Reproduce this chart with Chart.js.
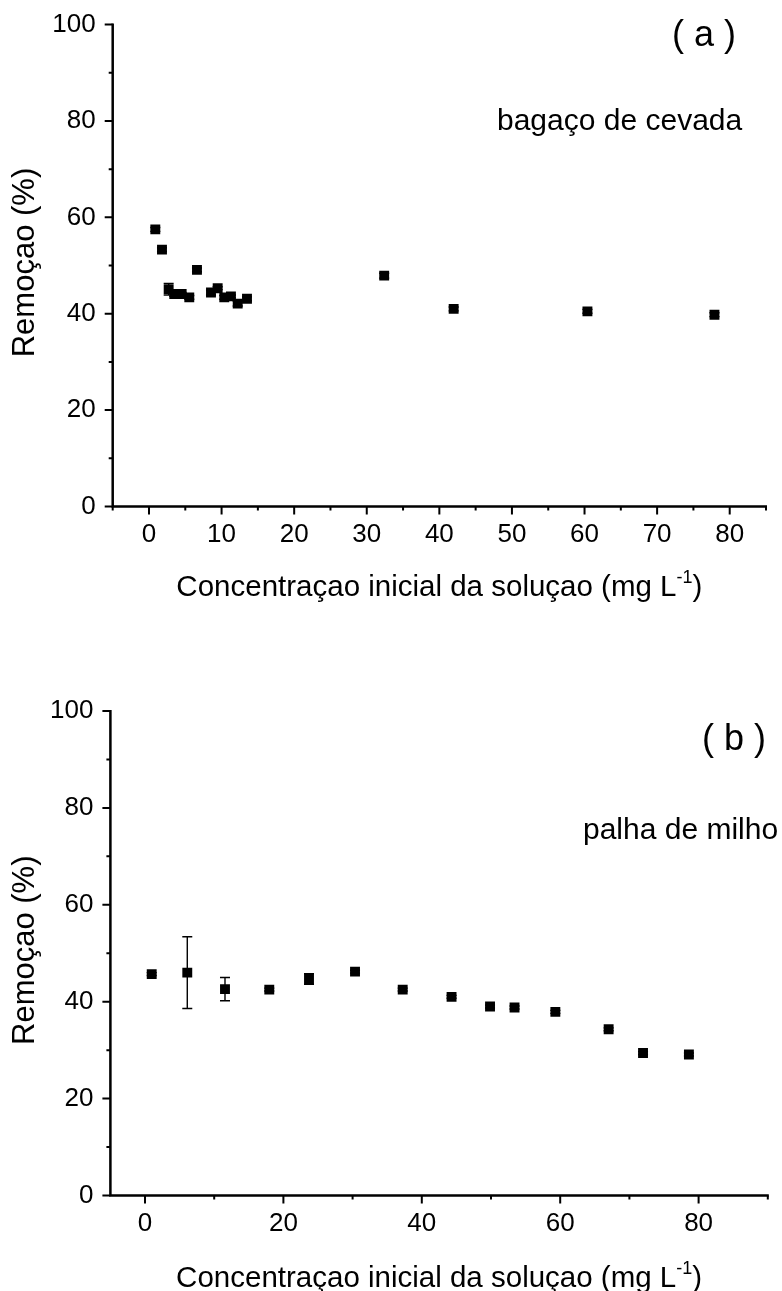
<!DOCTYPE html>
<html><head><meta charset="utf-8">
<script src="https://cdn.jsdelivr.net/npm/chart.js@4.4.1/dist/chart.umd.min.js"></script>
<style>
html,body{margin:0;padding:0;background:#fff;width:782px;height:1291px;overflow:hidden}
canvas{position:absolute;left:0}
#c1{top:0}#c2{top:640px}
</style></head><body>
<canvas id="c1" width="782" height="640" style="width:782px;height:640px"></canvas>
<canvas id="c2" width="782" height="651" style="width:782px;height:651px"></canvas>
<script>
// (a) bagaço de cevada
const concA = [0.87,1.79,2.71,3.48,4.5,5.55,6.61,8.54,9.46,10.37,11.29,12.22,13.5,32.4,41.97,60.4,77.9];
const remA  = [57.5,53.3,45.1,44.1,44.1,43.4,49.1,44.4,45.3,43.4,43.6,42.1,43.1,47.9,41.0,40.5,39.8];
const errA  = [0.4,0.4,1.2,0.5,0.3,0.4,0.4,0.5,0.3,0.4,0.3,0.5,0.4,0.5,0.4,0.4,0.4];
// (b) palha de milho
const concB = [0.97,6.11,11.56,17.96,23.7,30.35,37.24,44.3,49.86,53.4,59.3,67.0,71.97,78.6];
const remB  = [45.7,46.0,42.6,42.5,44.7,46.2,42.5,41.0,39.0,38.8,37.9,34.3,29.4,29.1];
const errB  = [0.3,7.4,2.4,0.3,1.1,0.3,0.3,0.3,0.3,0.3,0.3,0.3,0.3,0.3];

const yTickLabels = [0,20,40,60,80,100];
const xTickLabelsA = [0,10,20,30,40,50,60,70,80];
const xTickLabelsB = [0,20,40,60,80];

const yTitle = 'Remoçao (%)';
const xTitleMain = 'Concentraçao inicial da soluçao (mg L';
const xTitleSup = '-1';
const xTitleEnd = ')';

const FONT = '"Liberation Sans", Arial, sans-serif';

const deco = {
  id: 'deco',
  beforeDatasetsDraw(chart, args, o) {
    const ctx = chart.ctx, xs = chart.scales.x, ys = chart.scales.y;
    ctx.save();
    ctx.strokeStyle = '#000'; ctx.lineWidth = 1.4;
    o.xv.forEach((xv, i) => {
      const e = o.err[i];
      const px = xs.getPixelForValue(xv);
      const p1 = ys.getPixelForValue(o.yv[i] + e), p2 = ys.getPixelForValue(o.yv[i] - e);
      ctx.beginPath();
      ctx.moveTo(px, p1); ctx.lineTo(px, p2);
      ctx.moveTo(px - 5, p1); ctx.lineTo(px + 5, p1);
      ctx.moveTo(px - 5, p2); ctx.lineTo(px + 5, p2);
      ctx.stroke();
    });
    ctx.restore();
  },
  afterDraw(chart, args, o) {
    const ctx = chart.ctx, xs = chart.scales.x, ys = chart.scales.y, a = chart.chartArea;
    ctx.save();
    ctx.strokeStyle = '#000'; ctx.fillStyle = '#000';
    ctx.lineWidth = 2.5;
    ctx.beginPath();
    ctx.moveTo(a.left, a.top - 1); ctx.lineTo(a.left, a.bottom); ctx.lineTo(a.right + 1, a.bottom);
    ctx.stroke();
    ctx.lineWidth = 2;
    ctx.beginPath();
    for (let v = o.xTickStart; v <= o.xmax + 1e-9; v += o.xMinor) {
      const p = xs.getPixelForValue(v);
      const len = (Math.abs(v % o.xMajor) < 1e-9) ? 8 : 4;
      ctx.moveTo(p, a.bottom); ctx.lineTo(p, a.bottom + len);
    }
    for (let v = 0; v <= 100; v += 10) {
      const p = ys.getPixelForValue(v);
      const len = (v % 20 === 0) ? 8 : 4;
      ctx.moveTo(a.left, p); ctx.lineTo(a.left - len, p);
    }
    ctx.stroke();
    // x title with superscript
    ctx.textBaseline = 'alphabetic';
    const tf = '29.5px ' + FONT, sf = '18px ' + FONT;
    ctx.font = tf;
    const w1 = ctx.measureText(xTitleMain).width;
    const w3 = ctx.measureText(xTitleEnd).width;
    ctx.font = sf;
    const w2 = ctx.measureText(xTitleSup).width;
    let x0 = (a.left + a.right) / 2 - (w1 + w2 + w3) / 2;
    ctx.textAlign = 'left';
    ctx.font = tf;
    ctx.fillText(xTitleMain, x0, o.xTitleY);
    ctx.font = sf;
    ctx.fillText(xTitleSup, x0 + w1, o.xTitleY - 13);
    ctx.font = tf;
    ctx.fillText(xTitleEnd, x0 + w1 + w2, o.xTitleY);
    // y title
    ctx.save();
    ctx.translate(o.yTitleX, (a.top + a.bottom) / 2 - 3);
    ctx.rotate(-Math.PI / 2);
    ctx.textAlign = 'center'; ctx.textBaseline = 'middle';
    ctx.font = '31px ' + FONT;
    ctx.fillText(yTitle, 0, 0);
    ctx.restore();
    // panel labels
    ctx.textAlign = 'center'; ctx.textBaseline = 'middle';
    ctx.font = '36px ' + FONT;
    ctx.fillText(o.panel, o.panelX, o.panelY);
    ctx.textAlign = 'left'; ctx.textBaseline = 'alphabetic';
    ctx.font = '30px ' + FONT;
    ctx.fillText(o.name, o.nameX, o.nameY);
    ctx.restore();
  }
};

function makeChart(id, H, xv, yv, err, xmin, xmax, xMinor, xMajor, xTickStart, xLabels, area, d) {
  return new Chart(document.getElementById(id), {
    type: 'scatter',
    data: { datasets: [{ data: xv.map((x, i) => ({ x: x, y: yv[i] })),
      pointStyle: 'rect', pointRadius: 7, pointHoverRadius: 7,
      backgroundColor: '#000', borderColor: '#000', borderWidth: 0 }] },
    options: {
      responsive: false, animation: false, events: [],
      layout: { padding: { top: area.top, right: 782 - area.right, left: 0, bottom: 0 } },
      plugins: { legend: { display: false }, tooltip: { enabled: false },
        deco: Object.assign({ xv: xv, yv: yv, err: err, xmax: xmax, xMinor: xMinor, xMajor: xMajor, xTickStart: xTickStart }, d) },
      scales: {
        x: { type: 'linear', min: xmin, max: xmax,
          afterBuildTicks: s => { s.ticks = xLabels.map(v => ({ value: v })); },
          afterFit: s => { s.height = H - area.bottom; },
          grid: { display: false }, border: { display: false },
          ticks: { color: '#000', font: { family: FONT, size: 26 }, padding: 5, maxRotation: 0, autoSkip: false } },
        y: { type: 'linear', min: 0, max: 100,
          afterBuildTicks: s => { s.ticks = yTickLabels.map(v => ({ value: v })); },
          afterFit: s => { s.width = area.left; },
          grid: { display: false }, border: { display: false },
          ticks: { color: '#000', font: { family: FONT, size: 26 }, padding: 9 } }
      }
    },
    plugins: [deco]
  });
}

makeChart('c1', 640, concA, remA, errA, -5, 85, 5, 10, -5, xTickLabelsA,
  { left: 112.7, top: 17, right: 766, bottom: 506.5 },
  { xTitleY: 596, yTitleX: 25, panel: '( a )', panelX: 704, panelY: 36, name: 'bagaço de cevada', nameX: 497, nameY: 130 });

makeChart('c2', 651, concB, remB, errB, -5, 90, 10, 20, 0, xTickLabelsB,
  { left: 110.4, top: 71, right: 767.8, bottom: 555.5 },
  { xTitleY: 647, yTitleX: 25, panel: '( b )', panelX: 734, panelY: 100, name: 'palha de milho', nameX: 583, nameY: 199 });
</script>
</body></html>
